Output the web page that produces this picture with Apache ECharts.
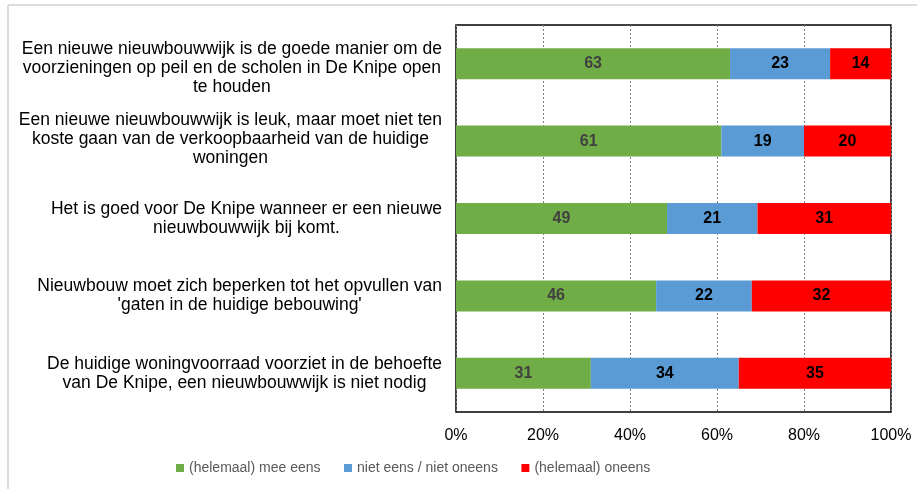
<!DOCTYPE html>
<html>
<head>
<meta charset="utf-8">
<script src="https://cdn.jsdelivr.net/npm/echarts@6/dist/echarts.min.js"></script>
<style>html,body{margin:0;padding:0;background:#fff}#c{width:917px;height:489px}</style>
</head>
<body>
<div id="c"></div>
<script>
var categories = [
  "Een nieuwe nieuwbouwwijk is de goede manier om de\nvoorzieningen op peil en de scholen in De Knipe open\nte houden",
  "Een nieuwe nieuwbouwwijk is leuk, maar moet niet ten\nkoste gaan van de verkoopbaarheid van de huidige\nwoningen",
  "Het is goed voor De Knipe wanneer er een nieuwe\nnieuwbouwwijk bij komt.",
  "Nieuwbouw moet zich beperken tot het opvullen van\n'gaten in de huidige bebouwing'",
  "De huidige woningvoorraad voorziet in de behoefte\nvan De Knipe, een nieuwbouwwijk is niet nodig"
];
var seriesNames = ["(helemaal) mee eens", "niet eens / niet oneens", "(helemaal) oneens"];
var eens = [63, 61, 49, 46, 31];
var neutraal = [23, 19, 21, 22, 34];
var oneens = [14, 20, 31, 32, 35];
var tickLabels = ["0%", "20%", "40%", "60%", "80%", "100%"];

var raw = [eens, neutraal, oneens];
var colors = ["#70AD47", "#5B9BD5", "#FF0000"];
var labelColors = ["#404040", "#000000", "#000000"];
var totals = categories.map(function (_, i) { return eens[i] + neutraal[i] + oneens[i]; });
var FONT = "Liberation Sans, Arial, sans-serif";

var series = raw.map(function (arr, s) {
  return {
    name: seriesNames[s],
    type: "bar",
    stack: "total",
    barWidth: "40%",
    itemStyle: { color: colors[s] },
    label: {
      show: true,
      position: "inside",
      color: labelColors[s],
      fontWeight: "bold",
      fontSize: 16,
      fontFamily: FONT,
      formatter: function (p) { return raw[s][p.dataIndex]; }
    },
    data: arr.map(function (v, i) { return v / totals[i] * 100; })
  };
});

var chart = echarts.init(document.getElementById("c"), null, { renderer: "canvas" });
chart.setOption({
  animation: false,
  backgroundColor: "#ffffff",
  textStyle: { fontFamily: FONT },
  graphic: [
    { type: "line", shape: { x1: 8, y1: 5, x2: 917, y2: 5 }, style: { stroke: "#dcdcdc", lineWidth: 2 } },
    { type: "line", shape: { x1: 8, y1: 5, x2: 8, y2: 489 }, style: { stroke: "#dcdcdc", lineWidth: 2 } }
  ],
  grid: { left: 456, right: 26, top: 25, bottom: 77, show: true, borderColor: "#000", borderWidth: 1.5, backgroundColor: "transparent" },
  legend: {
    bottom: 9,
    left: 171,
    itemWidth: 8,
    itemHeight: 8,
    itemGap: 23.5,
    icon: "rect",
    textStyle: { color: "#595959", fontSize: 14, fontFamily: FONT },
    data: seriesNames
  },
  xAxis: {
    type: "value",
    min: 0,
    max: 100,
    interval: 20,
    axisLine: { show: false },
    axisTick: { show: false },
    axisLabel: {
      color: "#000",
      fontSize: 16,
      fontFamily: FONT,
      margin: 16,
      formatter: function (v) { return tickLabels[Math.round(v / 20)]; }
    },
    splitLine: { show: true, lineStyle: { color: "#808080", type: [2, 2], width: 1 } }
  },
  yAxis: {
    type: "category",
    inverse: true,
    data: categories,
    axisLine: { show: false },
    axisTick: { show: false },
    axisLabel: {
      margin: 14,
      formatter: function (v, idx) {
        var out = v.split("\n").map(function (l) { return "{c|" + l + "}"; });
        if (idx === 0) out.unshift("{s9| }");
        if (idx === 1) out.push("{s4| }");
        return out.join("\n");
      },
      rich: {
        c: { align: "center", fontSize: 17.5, lineHeight: 18.8, color: "#000", fontFamily: FONT },
        s9: { fontSize: 1, lineHeight: 9 },
        s4: { fontSize: 1, lineHeight: 4 }
      }
    }
  },
  series: series
});
</script>
</body>
</html>
